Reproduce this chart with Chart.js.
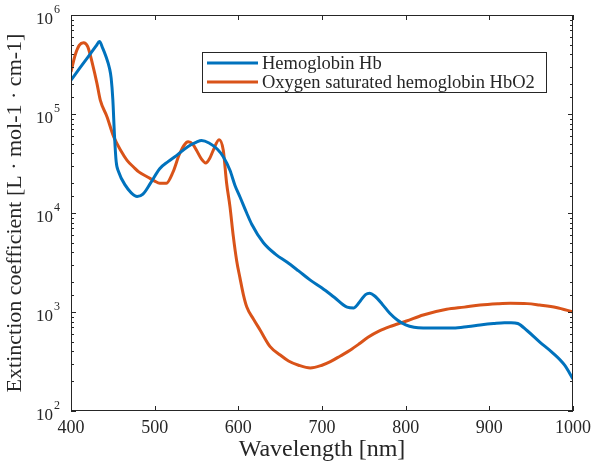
<!DOCTYPE html>
<html>
<head>
<meta charset="utf-8">
<script src="https://cdn.jsdelivr.net/npm/chart.js@4.4.1/dist/chart.umd.min.js"></script>
<style>
  html, body { margin: 0; padding: 0; background: #fff; }
  #wrap { width: 593px; height: 464px; }
</style>
</head>
<body>
<div id="wrap"><canvas id="chart" width="593" height="464"></canvas></div>
<script>
// Hemoglobin (Hb), molar extinction coefficient
const hbWavelength = [400, 410, 420, 430, 434, 438, 442, 446, 448, 450, 452, 454, 457, 465, 472, 479, 486, 495, 506, 516, 526,
  540, 550, 556, 565, 575, 582, 590, 596, 602, 610, 616, 630, 645, 658, 672, 686, 700, 715, 730, 738,
  746, 752, 757, 763, 772, 781, 790, 800, 810, 821, 840, 857, 875, 889, 905, 918, 926, 934, 945, 960,
  976, 990, 1000];
const hbValues = [220000, 287000, 374000, 487000, 540000, 460000, 376000, 290000, 230000, 140000, 60000, 33000, 26000, 19000, 16000, 14700, 15500, 20000, 28000, 33000, 38000,
  47000, 52000, 54000, 51000, 44000, 37000, 27000, 19000, 14500, 10000, 7700, 5000, 3800, 3200, 2600, 2100, 1750, 1400, 1120, 1100,
  1300, 1500, 1550, 1450, 1200, 970, 830, 740, 700, 690, 690, 690, 715, 740, 765, 780, 780, 765, 650, 500,
  385, 290, 210];

// Oxygen saturated hemoglobin (HbO2)
const hbo2Wavelength = [400, 405, 410, 415, 420, 426, 431, 435, 443, 451, 460, 467, 475, 481, 492, 500, 506, 514, 522, 530,
  540, 546, 550, 556, 561, 566, 570, 577, 582, 586, 590, 594, 598, 602, 606, 610, 618, 626, 638, 650,
  660, 672, 686, 700, 710, 722, 734, 745, 755, 768, 781, 801, 821, 849, 870, 889, 910, 925, 945, 960,
  980, 1000];
const hbo2Values = [267000, 395000, 497000, 525000, 480000, 312000, 204000, 138000, 94000, 59000, 42000, 34000, 29000, 26000, 23000, 21000, 20000, 20000, 26000, 40000,
  52500, 49000, 43000, 35000, 32000, 36000, 43000, 55000, 43000, 20000, 11600, 5800, 3300, 2200, 1500, 1130, 850, 658, 447, 368,
  320, 290, 272, 290, 315, 360, 413, 480, 555, 640, 711, 811, 933, 1065, 1120, 1175, 1210, 1224, 1215, 1175,
  1110, 1000];

const seriesLabels = ["Hemoglobin Hb", "Oxygen saturated hemoglobin HbO2"];
const seriesColors = ["#0072BD", "#D95319"];
const xTicks = [400, 500, 600, 700, 800, 900, 1000];
const yExponents = [2, 3, 4, 5, 6];

const toPoints = (xs, ys) => xs.map((x, i) => ({ x: x, y: ys[i] }));
const SERIF = "'Liberation Serif', 'Times New Roman', serif";
const AXIS = "#262626";

// MATLAB style box: inward ticks, 10^n labels, legend inside the axes
const matlabBox = {
  id: "matlabBox",
  afterDraw(chart) {
    const { ctx, chartArea: a, scales: { x, y } } = chart;
    ctx.save();
    ctx.strokeStyle = AXIS;
    ctx.lineWidth = 1;
    const seg = (x1, y1, x2, y2) => {
      ctx.beginPath();
      ctx.moveTo(x1, y1);
      ctx.lineTo(x2, y2);
      ctx.stroke();
    };
    ctx.strokeRect(a.left + 0.5, a.top + 0.5, a.right - a.left - 1, a.bottom - a.top - 1);

    xTicks.forEach(v => {
      const px = Math.round(x.getPixelForValue(v)) + 0.5;
      seg(px, a.bottom, px, a.bottom - 5);
      seg(px, a.top, px, a.top + 5);
    });

    y.ticks.forEach(t => {
      const major = Math.abs(Math.log10(t.value) - Math.round(Math.log10(t.value))) < 1e-9;
      const len = major ? 5 : 3;
      const py = Math.round(y.getPixelForValue(t.value)) + 0.5;
      seg(a.left, py, a.left + len, py);
      seg(a.right, py, a.right - len, py);
    });

    ctx.fillStyle = AXIS;
    ctx.textBaseline = "alphabetic";
    yExponents.forEach(e => {
      const py = y.getPixelForValue(Math.pow(10, e));
      ctx.font = "17px " + SERIF;
      ctx.textAlign = "right";
      ctx.fillText("10", 53, py + 9);
      ctx.font = "12px " + SERIF;
      ctx.textAlign = "left";
      ctx.fillText(String(e), 54, py - 2);
    });

    // legend
    const lx = 202, ly = 52, lw = 344, lh = 40;
    ctx.fillStyle = "#fff";
    ctx.fillRect(lx, ly, lw, lh);
    ctx.strokeRect(lx + 0.5, ly + 0.5, lw, lh);
    ctx.font = "18.5px " + SERIF;
    ctx.textAlign = "left";
    ctx.textBaseline = "middle";
    chart.data.datasets.forEach((ds, i) => {
      const ry = 63 + i * 19;
      ctx.strokeStyle = ds.borderColor;
      ctx.lineWidth = 3;
      seg(207, ry, 258, ry);
      ctx.fillStyle = AXIS;
      ctx.fillText(ds.label, 262, ry + 1);
    });
    ctx.restore();
  }
};

new Chart(document.getElementById("chart"), {
  type: "line",
  data: {
    datasets: [
      {
        label: seriesLabels[0],
        data: toPoints(hbWavelength, hbValues),
        borderColor: seriesColors[0],
        borderWidth: 3,
        pointRadius: 0,
        cubicInterpolationMode: "monotone",
      },
      {
        label: seriesLabels[1],
        data: toPoints(hbo2Wavelength, hbo2Values),
        borderColor: seriesColors[1],
        borderWidth: 3,
        pointRadius: 0,
        cubicInterpolationMode: "monotone",
      },
    ],
  },
  options: {
    responsive: false,
    animation: false,
    layout: { padding: { left: 0, right: 20, top: 15, bottom: 0 } },
    plugins: {
      legend: { display: false },
      tooltip: { enabled: false },
    },
    scales: {
      x: {
        type: "linear",
        min: 400,
        max: 1000,
        afterBuildTicks: (s) => { s.ticks = xTicks.map(v => ({ value: v })); },
        afterFit: (s) => { s.height = 53; s.paddingLeft = 0; s.paddingRight = 0; },
        grid: { display: false, drawTicks: false },
        border: { display: false },
        ticks: {
          color: AXIS,
          padding: 6,
          maxRotation: 0,
          callback: (v) => String(v),
          font: { family: SERIF, size: 18 },
        },
        title: {
          display: true,
          text: "Wavelength [nm]",
          color: AXIS,
          padding: 0,
          font: { family: SERIF, size: 24 },
        },
      },
      y: {
        type: "logarithmic",
        min: 100,
        max: 1000000,
        afterFit: (s) => { s.width = 71; s.paddingTop = 0; s.paddingBottom = 0; },
        grid: { display: false, drawTicks: false },
        border: { display: false },
        ticks: { display: false },
        title: {
          display: true,
          text: "Extinction coefficient [L · mol-1 · cm-1]",
          color: AXIS,
          padding: { top: 2, bottom: 0 },
          font: { family: SERIF, size: 22 },
        },
      },
    },
  },
  plugins: [matlabBox],
});
</script>
</body>
</html>
